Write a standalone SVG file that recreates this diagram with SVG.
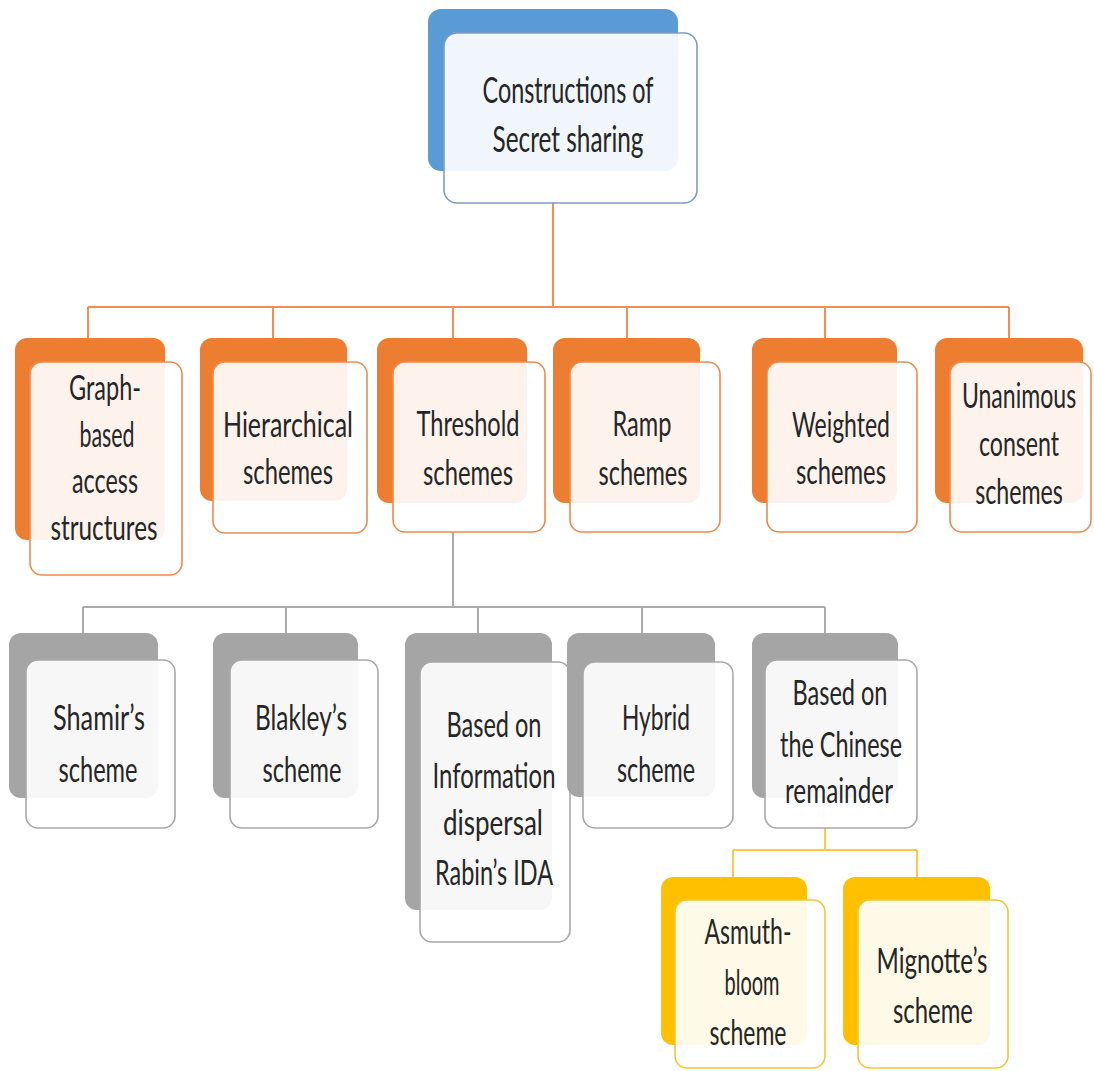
<svg xmlns="http://www.w3.org/2000/svg" width="1094" height="1071" viewBox="0 0 1094 1071">
  <style>
    .bg { fill: #ffffff; }
    .front { fill: #ffffff; fill-opacity: 0.91; stroke-width: 1.6; }
    .b-back { fill: #5B9BD5; }
    .b-front { stroke: #7F9DC4; }
    .o-back { fill: #ED7D31; }
    .o-front { stroke: #EE8A4D; }
    .g-back { fill: #A5A5A5; }
    .g-front { stroke: #A8A8A8; }
    .y-back { fill: #FFC000; }
    .y-front { stroke: #F5C43A; }
    .lbl { font-family: "Lato", "Liberation Sans", sans-serif; font-size: 34px; fill: #262626; text-anchor: middle; }
    .top { font-size: 37px; }
    .conn { fill: none; stroke-width: 2; }
    .c-o { stroke: #EE8F55; }
    .c-g { stroke: #ABABAB; }
    .c-y { stroke: #F9CB45; }
  </style>

  <rect class="bg" x="0" y="0" width="1094" height="1071"/>

  <!-- connectors -->
  <g id="connectors">
    <path class="conn c-o" d="M553,203 V307 M88,307 H1009 M88,307 V338 M273,307 V338 M453,307 V338 M627,307 V338 M825,307 V338 M1009,307 V338"/>
    <path class="conn c-g" d="M453,532 V607 M83,607 H825 M83,607 V633 M286,607 V633 M478,607 V633 M642,607 V633 M825,607 V633"/>
    <path class="conn c-y" d="M825,828 V850 M733,850 H917 M733,850 V877 M917,850 V877"/>
  </g>

  <!-- root -->
  <g id="node-root">
    <rect class="b-back" x="428" y="9" width="250" height="162" rx="13"/>
    <rect class="front b-front" x="444" y="33" width="253" height="170" rx="13"/>
    <text class="lbl top" x="568" y="103" textLength="171" lengthAdjust="spacingAndGlyphs">Constructions of</text>
    <text class="lbl top" x="568" y="152" textLength="151" lengthAdjust="spacingAndGlyphs">Secret sharing</text>
  </g>

  <!-- first level -->
  <g id="node-graph">
    <rect class="o-back" x="15" y="338" width="150" height="202" rx="12"/>
    <rect class="front o-front" x="30" y="362" width="152" height="213" rx="12"/>
    <text class="lbl" x="105" y="400" textLength="72" lengthAdjust="spacingAndGlyphs">Graph-</text>
    <text class="lbl" x="107" y="447" textLength="55" lengthAdjust="spacingAndGlyphs">based</text>
    <text class="lbl" x="105" y="493" textLength="66" lengthAdjust="spacingAndGlyphs">access</text>
    <text class="lbl" x="104" y="540" textLength="107" lengthAdjust="spacingAndGlyphs">structures</text>
  </g>

  <g id="node-hierarchical">
    <rect class="o-back" x="200" y="338" width="147" height="163" rx="12"/>
    <rect class="front o-front" x="213" y="362" width="154" height="171" rx="12"/>
    <text class="lbl" x="288" y="437" textLength="130" lengthAdjust="spacingAndGlyphs">Hierarchical</text>
    <text class="lbl" x="288" y="484" textLength="90" lengthAdjust="spacingAndGlyphs">schemes</text>
  </g>

  <g id="node-threshold">
    <rect class="o-back" x="377" y="338" width="150" height="165" rx="12"/>
    <rect class="front o-front" x="393" y="362" width="152" height="170" rx="12"/>
    <text class="lbl" x="468" y="436" textLength="103" lengthAdjust="spacingAndGlyphs">Threshold</text>
    <text class="lbl" x="468" y="485" textLength="90" lengthAdjust="spacingAndGlyphs">schemes</text>
  </g>

  <g id="node-ramp">
    <rect class="o-back" x="553" y="338" width="147" height="165" rx="12"/>
    <rect class="front o-front" x="570" y="362" width="150" height="170" rx="12"/>
    <text class="lbl" x="642" y="436" textLength="59" lengthAdjust="spacingAndGlyphs">Ramp</text>
    <text class="lbl" x="643" y="485" textLength="89" lengthAdjust="spacingAndGlyphs">schemes</text>
  </g>

  <g id="node-weighted">
    <rect class="o-back" x="752" y="338" width="145" height="165" rx="12"/>
    <rect class="front o-front" x="767" y="362" width="150" height="170" rx="12"/>
    <text class="lbl" x="841" y="437" textLength="98" lengthAdjust="spacingAndGlyphs">Weighted</text>
    <text class="lbl" x="841" y="484" textLength="90" lengthAdjust="spacingAndGlyphs">schemes</text>
  </g>

  <g id="node-unanimous">
    <rect class="o-back" x="935" y="338" width="148" height="165" rx="12"/>
    <rect class="front o-front" x="950" y="362" width="141" height="170" rx="12"/>
    <!-- narrow lines drawn in a horizontally condensed frame -->
    <g transform="translate(1019,0) scale(0.68,1)">
      <text class="lbl" x="0" y="408" textLength="168" lengthAdjust="spacingAndGlyphs">Unanimous</text>
      <text class="lbl" x="0" y="456" textLength="118" lengthAdjust="spacingAndGlyphs">consent</text>
      <text class="lbl" x="0" y="504" textLength="129" lengthAdjust="spacingAndGlyphs">schemes</text>
    </g>
  </g>

  <!-- threshold variants -->
  <g id="node-shamir">
    <rect class="g-back" x="9" y="633" width="149" height="165" rx="12"/>
    <rect class="front g-front" x="26" y="660" width="149" height="168" rx="12"/>
    <text class="lbl" x="99" y="730" textLength="92" lengthAdjust="spacingAndGlyphs">Shamir’s</text>
    <text class="lbl" x="98" y="782" textLength="79" lengthAdjust="spacingAndGlyphs">scheme</text>
  </g>

  <g id="node-blakley">
    <rect class="g-back" x="213" y="633" width="145" height="165" rx="12"/>
    <rect class="front g-front" x="230" y="660" width="148" height="168" rx="12"/>
    <text class="lbl" x="301" y="730" textLength="92" lengthAdjust="spacingAndGlyphs">Blakley’s</text>
    <text class="lbl" x="302" y="782" textLength="79" lengthAdjust="spacingAndGlyphs">scheme</text>
  </g>

  <g id="node-ida">
    <rect class="g-back" x="405" y="633" width="147" height="277" rx="12"/>
    <rect class="front g-front" x="420" y="662" width="150" height="280" rx="12"/>
    <text class="lbl" x="494" y="737" textLength="95" lengthAdjust="spacingAndGlyphs">Based on</text>
    <text class="lbl" x="494" y="788" textLength="123" lengthAdjust="spacingAndGlyphs">Information</text>
    <text class="lbl" x="493" y="835" textLength="100" lengthAdjust="spacingAndGlyphs">dispersal</text>
    <text class="lbl" x="494" y="885" textLength="118" lengthAdjust="spacingAndGlyphs">Rabin’s IDA</text>
  </g>

  <g id="node-hybrid">
    <rect class="g-back" x="567" y="633" width="148" height="164" rx="12"/>
    <rect class="front g-front" x="583" y="662" width="150" height="166" rx="12"/>
    <text class="lbl" x="656" y="730" textLength="68" lengthAdjust="spacingAndGlyphs">Hybrid</text>
    <text class="lbl" x="656" y="782" textLength="78" lengthAdjust="spacingAndGlyphs">scheme</text>
  </g>

  <g id="node-crt">
    <rect class="g-back" x="752" y="633" width="146" height="165" rx="12"/>
    <rect class="front g-front" x="765" y="660" width="152" height="168" rx="12"/>
    <text class="lbl" x="840" y="705" textLength="95" lengthAdjust="spacingAndGlyphs">Based on</text>
    <text class="lbl" x="841" y="757" textLength="122" lengthAdjust="spacingAndGlyphs">the Chinese</text>
    <text class="lbl" x="839" y="803" textLength="108" lengthAdjust="spacingAndGlyphs">remainder</text>
  </g>

  <!-- remainder-based variants -->
  <g id="node-asmuth">
    <rect class="y-back" x="661" y="877" width="146" height="168" rx="12"/>
    <rect class="front y-front" x="675" y="900" width="150" height="168" rx="12"/>
    <text class="lbl" x="748" y="944" textLength="87" lengthAdjust="spacingAndGlyphs">Asmuth-</text>
    <text class="lbl" x="752" y="995" textLength="55" lengthAdjust="spacingAndGlyphs">bloom</text>
    <text class="lbl" x="748" y="1045" textLength="77" lengthAdjust="spacingAndGlyphs">scheme</text>
  </g>

  <g id="node-mignotte">
    <rect class="y-back" x="843" y="877" width="147" height="168" rx="12"/>
    <rect class="front y-front" x="858" y="900" width="150" height="168" rx="12"/>
    <text class="lbl" x="932" y="973" textLength="111" lengthAdjust="spacingAndGlyphs">Mignotte’s</text>
    <text class="lbl" x="933" y="1023" textLength="80" lengthAdjust="spacingAndGlyphs">scheme</text>
  </g>
</svg>
